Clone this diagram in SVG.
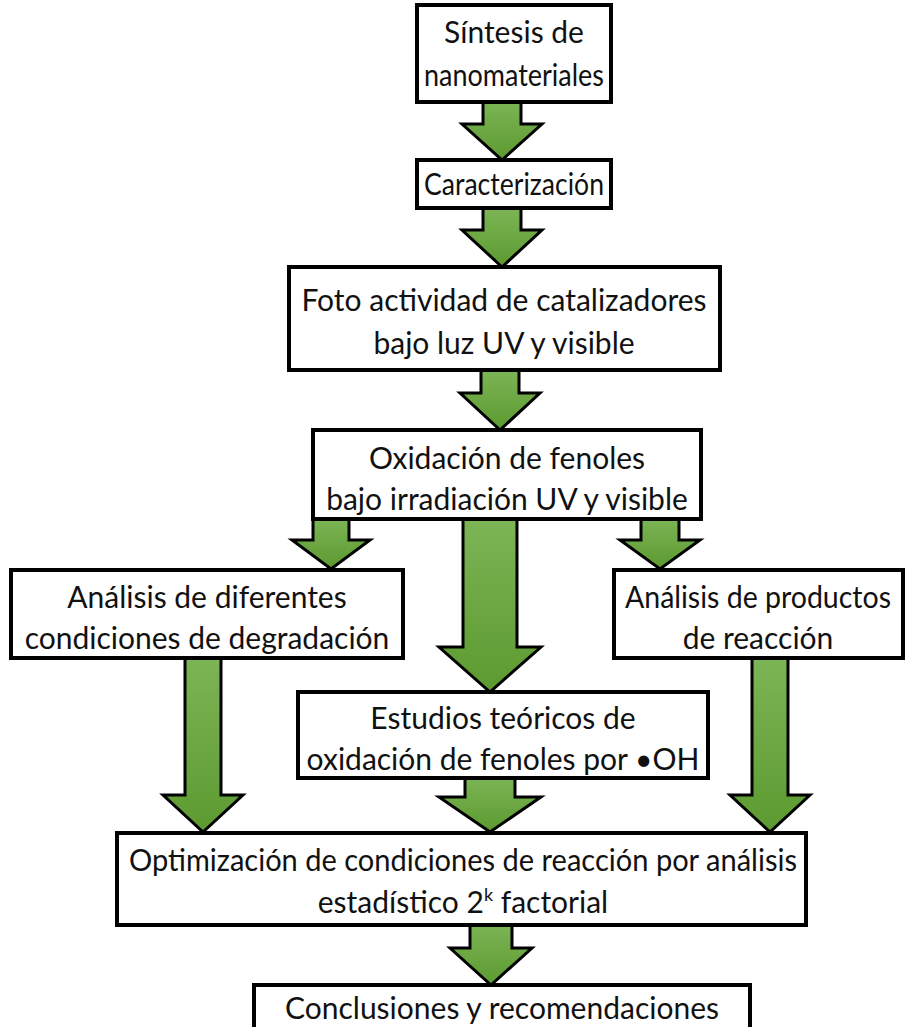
<svg xmlns="http://www.w3.org/2000/svg" width="907" height="1027" viewBox="0 0 907 1027">
<defs>
<linearGradient id="g" x1="0" y1="0" x2="0" y2="1">
<stop offset="0" stop-color="#7db556"/>
<stop offset="1" stop-color="#5c9a30"/>
</linearGradient>
<style>
.box{fill:#fff;stroke:#000;stroke-width:4}
.arr{fill:url(#g);stroke:#000;stroke-width:3;stroke-linejoin:miter}
text{font-family:"Lato","Liberation Sans",sans-serif;font-size:30px;fill:#111;text-anchor:middle}
</style>
</defs>
<rect width="907" height="1027" fill="#fff"/>
<g id="connectors">
<path class="arr" d="M483,100 L521,100 L521,124 L542,124 L502,160 L462,124 L483,124 Z"/>
<path class="arr" d="M483,207 L521,207 L521,230 L542,230 L502,267 L462,230 L483,230 Z"/>
<path class="arr" d="M481,368 L519,368 L519,393 L540,393 L500,430 L460,393 L481,393 Z"/>
<path class="arr" d="M313,517 L349,517 L349,540 L370,540 L331,569 L292,540 L313,540 Z"/>
<path class="arr" d="M463,517 L517,517 L517,647 L541,647 L490,692 L439,647 L463,647 Z"/>
<path class="arr" d="M641,517 L679,517 L679,540 L700,540 L660,569 L620,540 L641,540 Z"/>
<path class="arr" d="M185,656 L221,656 L221,795 L243,795 L203,832 L163,795 L185,795 Z"/>
<path class="arr" d="M465,776 L515,776 L515,797 L541,797 L490,832 L439,797 L465,797 Z"/>
<path class="arr" d="M752,656 L788,656 L788,795 L810,795 L770,832 L730,795 L752,795 Z"/>
<path class="arr" d="M470,923 L512,923 L512,948 L532,948 L491,985 L450,948 L470,948 Z"/>
</g>
<g id="n1"><rect class="box" x="417" y="5" width="194" height="97"/><text x="514" y="43">Síntesis de</text><text x="514" y="86" textLength="180" lengthAdjust="spacingAndGlyphs">nanomateriales</text></g>
<g id="n2"><rect class="box" x="417" y="160" width="194" height="48"/><text x="514" y="195" textLength="180" lengthAdjust="spacingAndGlyphs">Caracterización</text></g>
<g id="n3"><rect class="box" x="289" y="267" width="431" height="103"/><text x="504" y="311">Foto actividad de catalizadores</text><text x="504" y="354">bajo luz UV y visible</text></g>
<g id="n4"><rect class="box" x="313" y="430" width="388" height="89"/><text x="507" y="469">Oxidación de fenoles</text><text x="507" y="510">bajo irradiación UV y visible</text></g>
<g id="n5"><rect class="box" x="11" y="570" width="392" height="88"/><text x="207" y="608">Análisis de diferentes</text><text x="207" y="649">condiciones de degradación</text></g>
<g id="n6"><rect class="box" x="614" y="570" width="289" height="88"/><text x="758" y="608" textLength="266" lengthAdjust="spacingAndGlyphs">Análisis de productos</text><text x="758" y="649">de reacción</text></g>
<g id="n7"><rect class="box" x="298" y="692" width="410" height="86"/><text x="503" y="729">Estudios teóricos de</text><text x="503" y="770">oxidación de fenoles por •OH</text></g>
<g id="n8"><rect class="box" x="117" y="833" width="689" height="92"/><text x="463" y="871" textLength="668" lengthAdjust="spacingAndGlyphs">Optimización de condiciones de reacción por análisis</text><text x="463" y="913">estadístico 2<tspan font-size="18" dy="-12">k</tspan><tspan dy="12"> factorial</tspan></text></g>
<g id="n9"><rect class="box" x="254" y="985" width="496" height="60"/><text x="502" y="1019">Conclusiones y recomendaciones</text></g>
</svg>
